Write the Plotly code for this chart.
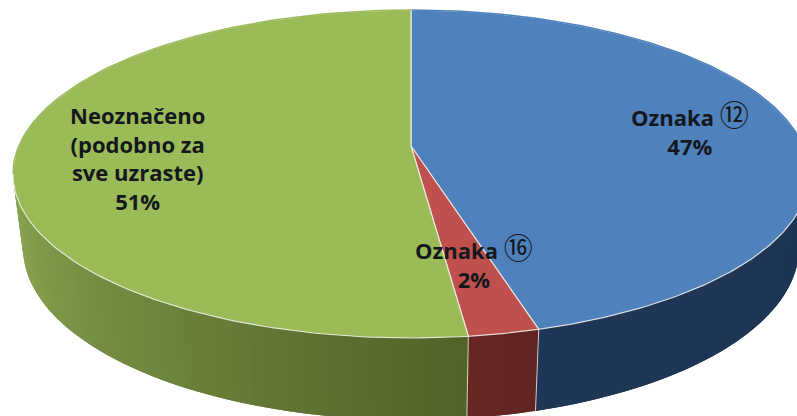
import numpy as np
import plotly.graph_objects as go

# Drawn slice sizes (percent of the rim), clockwise from 12 o'clock
slice_names = ["Oznaka ⑫", "Oznaka ⑯", "Neoznačeno<br>(podobno za<br>sve uzraste)"]
slice_sizes = [44.8, 2.9, 52.3]
label_percent = ["47%", "2%", "51%"]
label_x = [690, 474, 137]
label_y = [126, 259.5, 158]
top_colors = ["#4F81BD", "#C0504D", "#9BBB59"]
wall_left_rgb = [(30, 52, 82), (96, 36, 34), (80, 98, 40)]     # wall colour at the slice's start
wall_right_rgb = [(31, 54, 86), (102, 38, 36), (140, 168, 82)]  # wall colour at the slice's end

W, H = 797, 416
APEX = (411, 146)
TOP = dict(cx=411, cy=174, rx=398, ry=164)
BOT = dict(cx=411, cy=248, rx=388, ry=172)
LABEL_FONT = "'Open Sans', sans-serif"
TEXT = "#14181c"
CIRCLE_SIZE = 29


def rim(e, deg):
    a = np.radians(deg)
    return e["cx"] + e["rx"] * np.sin(a), e["cy"] - e["ry"] * np.cos(a)


edges = np.concatenate([[0], np.cumsum(slice_sizes) * 3.6])
fig = go.Figure()


def poly(xs, ys, color, lw=0.0, line=None):
    fig.add_trace(go.Scatter(x=list(xs), y=list(ys), mode="lines", fill="toself",
                             fillcolor=color, line=dict(color=line or color, width=lw),
                             hoverinfo="skip", showlegend=False))


# side wall, only the part facing the viewer, as overlapping colour strips
for i in range(3):
    a0, a1 = edges[i], edges[i + 1]
    a0v, a1v = max(a0, 90), min(a1, 270)
    if a1v <= a0v:
        continue
    n = max(1, int((a1v - a0v) / 1.6))
    steps = np.linspace(a0v, a1v, n + 1)
    for j in range(n):
        t = (j + 0.5) / n
        c = [round(l + (r - l) * t) for l, r in zip(wall_left_rgb[i], wall_right_rgb[i])]
        s = np.linspace(steps[j], steps[min(j + 2, n)], 5)
        xt, yt = rim(TOP, s)
        xb, yb = rim(BOT, s)
        poly(np.r_[xt, xb[::-1], xt[0]], np.r_[yt, yb[::-1], yt[0]], f"rgb({c[0]},{c[1]},{c[2]})")

# top face wedges
for i in range(3):
    s = np.linspace(edges[i], edges[i + 1], 160)
    xt, yt = rim(TOP, s)
    poly(np.r_[APEX[0], xt, APEX[0]], np.r_[APEX[1], yt, APEX[1]], top_colors[i],
         lw=1.2, line="rgba(238,240,232,0.85)")
    # soften the outline where the top face meets the white page
    back = s[(s < 90) | (s > 270)]
    for p in (back[back < 90], back[back > 270]):
        if len(p):
            xb, yb = rim(TOP, p)
            fig.add_trace(go.Scatter(x=xb, y=yb, mode="lines", hoverinfo="skip", showlegend=False,
                                     line=dict(color=top_colors[i], width=1.4)))

# seams on the wall between slices
for a in edges[1:3]:
    xt, yt = rim(TOP, a)
    xb, yb = rim(BOT, a)
    fig.add_trace(go.Scatter(x=[xt, xb], y=[yt, yb], mode="lines", hoverinfo="skip", showlegend=False,
                             line=dict(color="rgba(235,235,230,0.8)", width=1)))


def big_circle(text):
    for ch in "⑫⑯":
        text = text.replace(ch, f"<span style='font-family:Noto Sans CJK JP;font-weight:normal;font-size:{CIRCLE_SIZE}px'>{ch}</span>")
    return text


for name, pct, x, y in zip(slice_names, label_percent, label_x, label_y):
    fig.add_annotation(x=x, y=y, text=big_circle(name) + "<br>" + pct, showarrow=False,
                       xanchor="center", yanchor="middle", align="center",
                       font=dict(family=LABEL_FONT, size=22, color=TEXT, weight="bold"))

fig.update_xaxes(range=[0, W], visible=False, fixedrange=True)
fig.update_yaxes(range=[H, 0], visible=False, fixedrange=True)
fig.update_layout(width=W, height=H, margin=dict(l=0, r=0, t=0, b=0), autosize=False,
                  paper_bgcolor="white", plot_bgcolor="white", showlegend=False)
fig.write_html("out.html", config=dict(displayModeBar=False),
               post_script="document.body.style.margin='0';document.documentElement.style.overflow='hidden';")
